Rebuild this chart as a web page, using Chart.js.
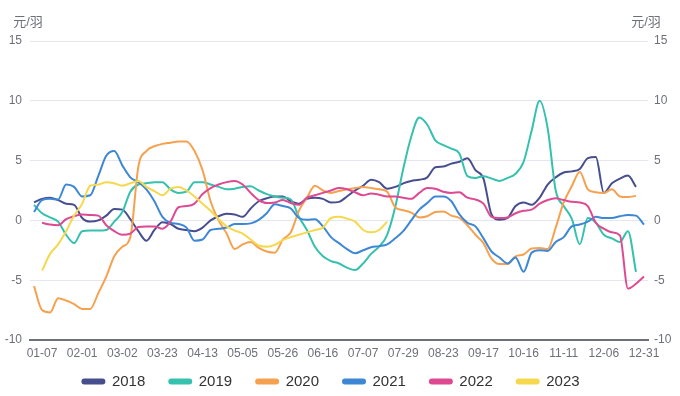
<!DOCTYPE html>
<html>
<head>
<meta charset="utf-8">
<script src="https://cdn.jsdelivr.net/npm/chart.js"></script>
<style>
  html, body { margin: 0; background: #fff; }
</style>
</head>
<body>
<canvas id="chart" width="680" height="396"></canvas>
<script>
const tickLabels = ['01-07', '02-01', '03-02', '03-23', '04-13', '05-05', '05-26', '06-16',
  '07-07', '07-29', '08-23', '09-17', '10-16', '11-11', '12-06', '12-31'];

const seriesNames = ['2018', '2019', '2020', '2021', '2022', '2023'];
const seriesColors = ['#464e8e', '#36c1ae', '#f6a150', '#3d87d4', '#dd4a91', '#f6d84f'];

const y2018 = [1.5, 1.8, 1.9, 1.7, 1.4, 1.3, 0.2, -0.1, 0.0, 0.4, 0.95, 0.9, 0.1, -0.9, -1.7, -0.8, -0.15, -0.3, -0.7,
  -0.8, -0.9, -0.6, 0.0, 0.35, 0.55, 0.5, 0.3, 1.0, 1.6, 1.85, 2.0, 2.0, 1.6, 1.4, 1.8, 1.9, 1.8, 1.5,
  1.55, 2.0, 2.5, 2.9, 3.4, 3.2, 2.65, 2.8, 3.1, 3.3, 3.4, 3.6, 4.45, 4.5, 4.75, 4.9, 5.2, 4.2, 3.5, 0.5,
  0.05, 0.2, 1.2, 1.5, 1.3, 1.9, 3.0, 3.6, 4.0, 4.1, 4.3, 5.2, 5.3, 2.3, 3.1, 3.5, 3.75, 2.8, null];

const y2019 = [1.3, 0.6, 0.25, -0.1, -1.2, -1.9, -0.9, -0.85, -0.85, -0.8, -0.1, 0.7, 2.4, 3.0, 3.1, 3.2, 3.2, 2.6, 2.3,
  2.4, 3.2, 3.2, 3.0, 2.8, 2.6, 2.65, 2.8, 2.85, 2.5, 2.2, 2.0, 1.9, 1.75, 0.3, -0.8, -2.2, -3.0, -3.4,
  -3.6, -3.95, -4.15, -3.6, -2.8, -2.2, -1.2, 1.1, 4.3, 7.0, 8.6, 8.0, 6.7, 6.3, 6.0, 5.6, 3.7, 3.55, 3.7, 3.5,
  3.3, 3.55, 3.9, 4.9, 7.5, 10.0, 7.7, 2.5, 1.2, 0.15, -2.0, 0.2, -0.2, -1.2, -1.5, -1.8, -0.9, -4.3, null];

const y2020 = [-5.5, -7.5, -7.7, -6.5, -6.7, -7.0, -7.4, -7.4, -6.1, -4.7, -3.0, -2.2, -1.4, 4.5, 5.8, 6.2, 6.4, 6.5, 6.6,
  6.6, 5.8, 4.2, 1.6, 0.0, -1.1, -2.4, -2.0, -1.8, -2.3, -2.6, -2.7, -1.6, -1.0, 0.8, 1.9, 2.9, 2.5, 2.3,
  2.45, 2.6, 2.7, 2.8, 2.7, 2.6, 2.4, 1.1, 0.85, 0.65, 0.25, 0.35, 0.7, 0.75, 0.4, 0.2, -0.4, -1.2, -1.9, -3.2,
  -3.65, -3.65, -3.0, -2.85, -2.35, -2.3, -2.4, -0.6, 1.5, 2.85, 4.05, 2.6, 2.35, 2.3, 2.6, 2.0, 1.95, 2.05, null];

const y2021 = [0.7, 1.7, 1.8, 1.75, 3.0, 2.8, 2.0, 2.1, 3.7, 5.4, 5.8, 4.6, 3.6, 3.2, 2.6, 1.6, 0.3, -0.2, -0.3,
  -0.6, -1.7, -1.6, -0.8, -0.7, -0.6, -0.3, -0.3, -0.25, 0.05, 0.6, 1.35, 1.2, 1.0, 0.2, 0.05, 0.1, -0.5, -1.4,
  -1.9, -2.4, -2.75, -2.5, -2.25, -2.15, -2.0, -1.5, -0.9, 0.0, 0.9, 1.45, 2.0, 2.0, 1.6, 0.5, -0.2, -0.5, -1.5, -2.6,
  -3.1, -3.6, -3.1, -4.3, -2.7, -2.5, -2.55, -1.8, -1.4, -0.5, -0.35, -0.1, 0.3, 0.2, 0.2, 0.35, 0.45, 0.4, -0.35];

const y2022 = [null, -0.2, -0.35, -0.4, 0.1, 0.35, 0.5, 0.45, 0.4, -0.4, -0.9, -1.2, -1.1, -0.55, -0.5, -0.5, -0.7, -0.1, 1.1,
  1.2, 1.4, 2.2, 2.7, 3.0, 3.2, 3.3, 3.0, 2.3, 1.7, 1.45, 1.5, 1.7, 1.45, 1.3, 1.9, 2.1, 2.3, 2.5,
  2.7, 2.6, 2.35, 2.1, 2.25, 2.15, 2.0, 2.0, 1.9, 1.8, 2.3, 2.7, 2.65, 2.4, 2.3, 2.35, 1.9, 1.75, 1.4, 0.3,
  0.2, 0.25, 0.6, 0.8, 0.9, 1.4, 1.7, 1.85, 1.7, 1.55, 1.5, 1.2, -0.2, -0.7, -1.0, -1.25, -5.7, -5.3, -4.7];

const y2023 = [null, -4.2, -2.8, -2.0, -0.9, 0.4, 1.4, 2.9, 3.0, 3.2, 3.1, 2.9, 3.1, 3.3, 2.8, 2.45, 2.1, 2.65, 2.8,
  2.5, 2.0, 1.4, 0.8, 0.1, -0.5, -0.85, -1.1, -1.6, -2.1, -2.2, -2.05, -1.65, -1.4, -1.2, -1.0, -0.8, -0.6, 0.2,
  0.3, 0.15, -0.1, -0.8, -1.0, -0.8, -0.1, null, null, null, null, null, null, null, null, null, null, null, null, null,
  null, null, null, null, null, null, null, null, null, null, null, null, null, null, null, null, null, null, null];

// one lead-in day, then five categories per labelled interval
function toTime(s) {
  const [m, d] = s.split('-').map(Number);
  return new Date(2023, m - 1, d, 12).getTime();
}
function fmt(t) {
  const d = new Date(t);
  return String(d.getMonth() + 1).padStart(2, '0') + '-' + String(d.getDate()).padStart(2, '0');
}
const categories = ['01-02'];
for (let j = 0; j < tickLabels.length - 1; j++) {
  const a = toTime(tickLabels[j]), b = toTime(tickLabels[j + 1]);
  for (let k = 0; k < 5; k++) categories.push(fmt(a + (b - a) * k / 5));
}
categories.push(tickLabels[tickLabels.length - 1]);

const allSeries = [y2018, y2019, y2020, y2021, y2022, y2023];
const FONT = '"Liberation Sans", "Noto Sans CJK SC", sans-serif';
const AXIS_COLOR = '#6e7079';

// unit text above both y axes, and pull the legend up closer to the axis
const extras = {
  id: 'extras',
  afterLayout(chart) {
    const lg = chart.legend;
    lg.top -= 12;
    lg.left -= 9; lg.right -= 9;
  },
  afterDraw(chart) {
    const { ctx, chartArea } = chart;
    ctx.save();
    ctx.font = '13px ' + FONT;
    ctx.fillStyle = AXIS_COLOR;
    ctx.textAlign = 'center';
    ctx.textBaseline = 'middle';
    ctx.fillText('元/羽', chartArea.left - 2, chartArea.top - 19);
    ctx.fillText('元/羽', chartArea.right - 2, chartArea.top - 19);
    ctx.restore();
  }
};

new Chart(document.getElementById('chart'), {
  type: 'line',
  data: {
    labels: categories,
    datasets: allSeries.map((values, i) => ({
      label: seriesNames[i],
      data: values,
      borderColor: seriesColors[i],
      backgroundColor: seriesColors[i],
      borderWidth: 2,
      pointRadius: 0,
      cubicInterpolationMode: 'monotone',
      fill: false,
      yAxisID: 'y',
      order: seriesNames.length - i
    }))
  },
  options: {
    responsive: false,
    animation: false,
    devicePixelRatio: 1,
    layout: { padding: { top: 41, right: 0, bottom: 0, left: 0 } },
    plugins: {
      legend: {
        position: 'bottom',
        maxHeight: 34,
        labels: {
          boxWidth: 22,
          boxHeight: 4,
          padding: 24,
          color: '#333',
          font: { size: 15, family: FONT },
          useBorderRadius: true,
          borderRadius: 2,
          sort: (a, b) => a.datasetIndex - b.datasetIndex
        }
      },
      tooltip: { enabled: false }
    },
    scales: {
      x: {
        type: 'category',
        offset: true,
        grid: { display: false, drawTicks: false },
        border: { color: AXIS_COLOR, width: 2 },
        ticks: {
          autoSkip: false,
          maxRotation: 0,
          padding: 6,
          color: AXIS_COLOR,
          font: { size: 12, family: FONT },
          callback: (v, i) => (i % 5 === 1 ? categories[i] : '')
        },
        afterFit: s => { s.height = 22; }
      },
      y: {
        position: 'left',
        min: -10,
        max: 15,
        ticks: { stepSize: 5, padding: 8, color: AXIS_COLOR, font: { size: 12, family: FONT } },
        grid: { color: '#e6e6f0', drawTicks: false },
        border: { display: false },
        afterFit: s => { s.width = 30; }
      },
      y2: {
        position: 'right',
        min: -10,
        max: 15,
        ticks: { stepSize: 5, padding: 6, color: AXIS_COLOR, font: { size: 12, family: FONT } },
        grid: { display: false, drawTicks: false },
        border: { display: false },
        afterFit: s => { s.width = 32; }
      }
    }
  },
  plugins: [extras]
});
</script>
</body>
</html>
